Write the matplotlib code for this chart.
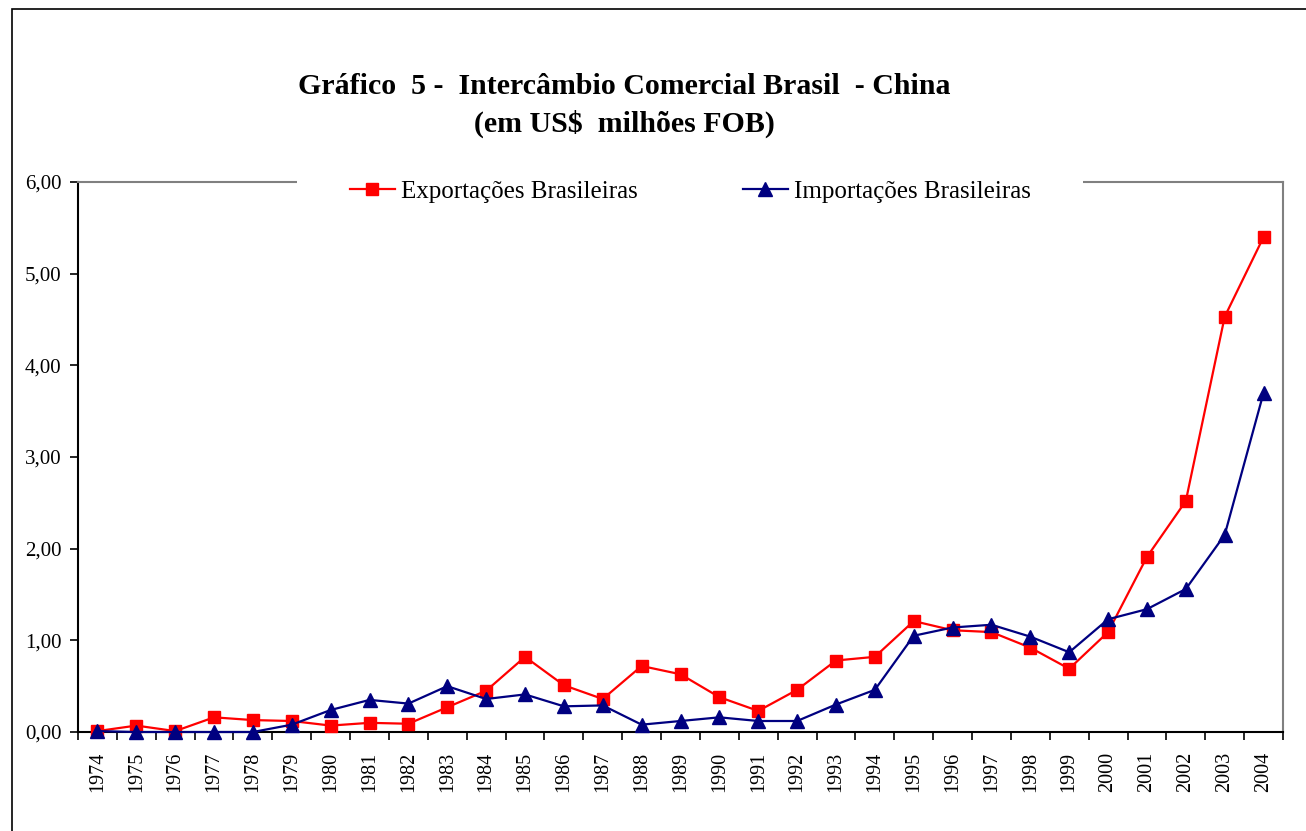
import matplotlib
matplotlib.use("Agg")
import matplotlib.pyplot as plt
from matplotlib.patches import Rectangle
from matplotlib.ticker import FixedLocator, FuncFormatter

plt.rcParams['font.family'] = ['Liberation Serif', 'DejaVu Serif']

years = [str(y) for y in range(1974, 2005)]
exportacoes = [0.01, 0.07, 0.01, 0.16, 0.13, 0.12, 0.07, 0.10, 0.09, 0.27,
               0.45, 0.82, 0.51, 0.36, 0.72, 0.63, 0.38, 0.23, 0.46, 0.78,
               0.82, 1.21, 1.11, 1.09, 0.92, 0.69, 1.09, 1.91, 2.52, 4.53,
               5.40]
importacoes = [0.01, 0.0, 0.0, 0.0, 0.0, 0.08, 0.24, 0.35, 0.31, 0.50,
               0.36, 0.41, 0.28, 0.29, 0.08, 0.12, 0.16, 0.12, 0.12, 0.30,
               0.46, 1.05, 1.14, 1.17, 1.04, 0.87, 1.23, 1.34, 1.56, 2.15,
               3.70]


def main():
	fig = plt.figure(figsize=(13.06, 8.31), dpi=100)
	ax = fig.add_axes([78/1306, 1-732/831, 1205/1306, 550/831])

	x = list(range(len(years)))
	ax.plot(x, exportacoes, color='#FF0000', lw=1.6, marker='s', markersize=9,
	        label='Exportações Brasileiras', clip_on=False, zorder=3)
	ax.plot(x, importacoes, color='#000080', lw=1.6, marker='^', markersize=10,
	        label='Importações Brasileiras', clip_on=False, zorder=4)

	ax.set_xlim(-0.5, len(years) - 0.5)
	ax.set_ylim(0, 6)
	ax.set_yticks([0, 1, 2, 3, 4, 5, 6])
	ax.yaxis.set_major_formatter(FuncFormatter(lambda v, p: ('%.2f' % v).replace('.', ',')))
	ax.tick_params(axis='y', labelsize=15, length=6, width=1.2, pad=6, direction='out')

	ax.set_xticks(x)
	ax.set_xticklabels(years, rotation=90)
	ax.tick_params(axis='x', which='major', labelsize=14.5, length=0, pad=14)
	ax.xaxis.set_minor_locator(FixedLocator([i - 0.5 for i in range(len(years) + 1)]))
	ax.tick_params(axis='x', which='minor', length=6, width=1.2, direction='out')

	for s in ['left', 'bottom']:
		ax.spines[s].set_color('#000000')
		ax.spines[s].set_linewidth(1.5)
	for s in ['top', 'right']:
		ax.spines[s].set_color('#808080')
		ax.spines[s].set_linewidth(1.5)

	leg = ax.legend(loc='center', bbox_to_anchor=(0.508, 0.982), ncol=2,
	                fontsize=18, frameon=True, facecolor='white', edgecolor='none',
	                framealpha=1, fancybox=False, handlelength=1.8,
	                handletextpad=0.25, columnspacing=4.2, borderpad=2.1)
	leg.get_frame().set_linewidth(0)

	fig.text(624/1306, 1-87/831, 'Gráfico  5 -  Intercâmbio Comercial Brasil  - China',
	         ha='center', va='center', fontsize=21.5, fontweight='bold')
	fig.text(624/1306, 1-124/831, '(em US$  milhões FOB)',
	         ha='center', va='center', fontsize=21.5, fontweight='bold')

	fig.add_artist(Rectangle((12/1306, -0.2), 2, 1.2 - 9/831, fill=False,
	                         edgecolor='black', lw=1.2, transform=fig.transFigure))

	fig.savefig('out.png', dpi=100)


if __name__ == '__main__':
	main()
